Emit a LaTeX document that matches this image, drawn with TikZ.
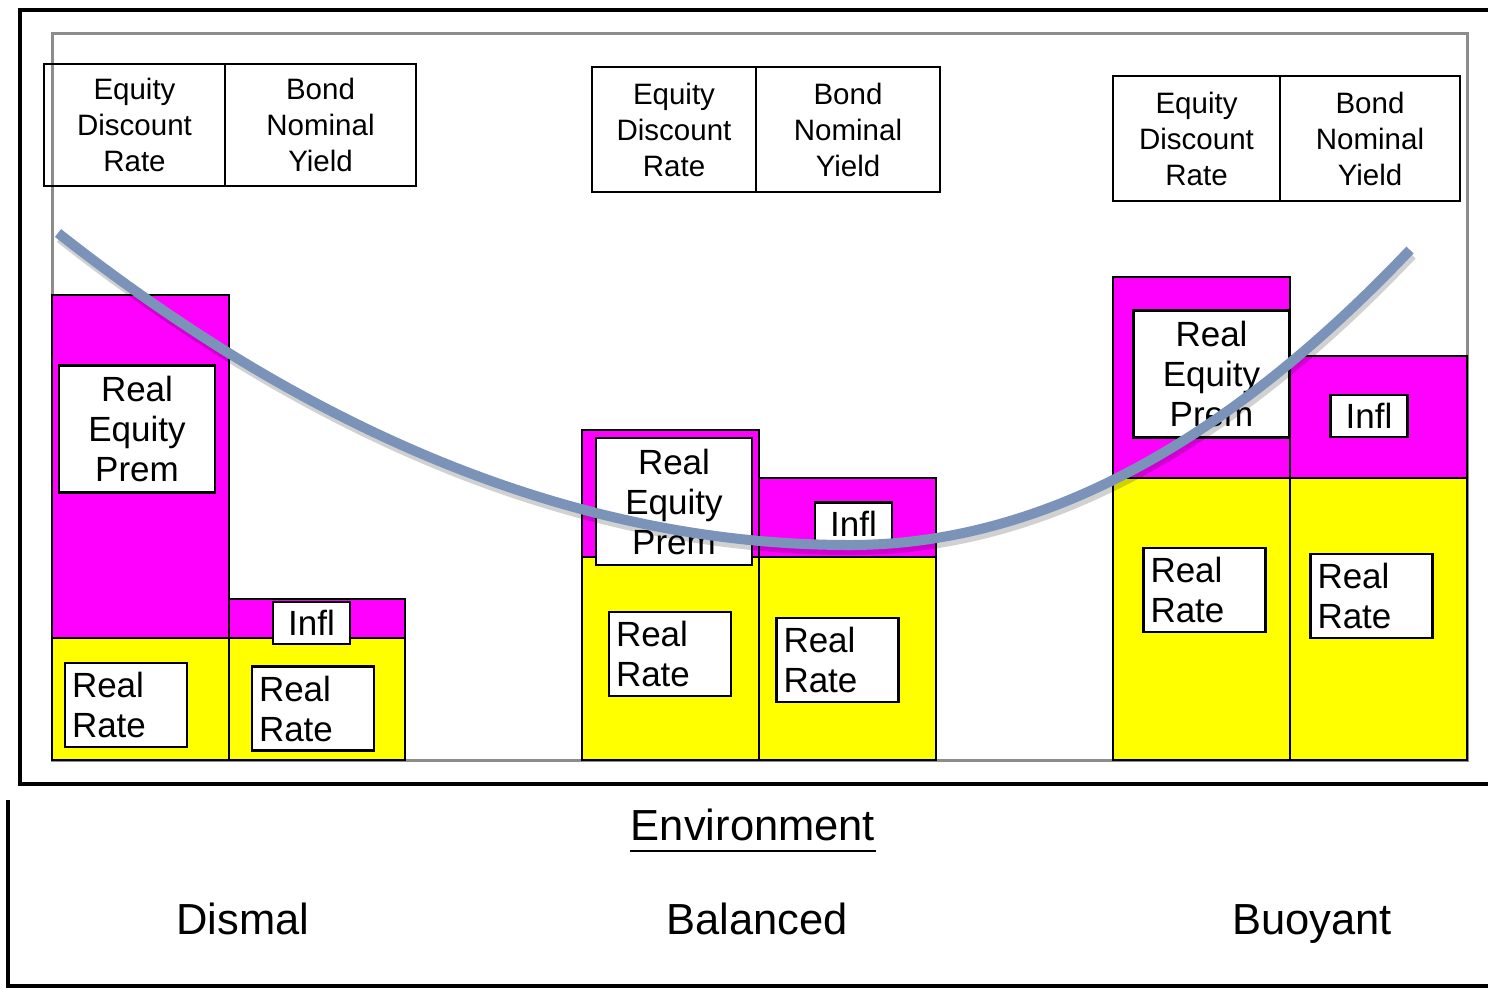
\documentclass[tikz,border=0pt]{standalone}
\usepackage{fontspec}
\setmainfont{Liberation Sans}
\usetikzlibrary{positioning}
\definecolor{premcol}{HTML}{FF00FF}
\definecolor{ratecol}{HTML}{FFFF00}
\definecolor{curvecol}{HTML}{7B93B9}
\definecolor{framecol}{HTML}{8C8C8C}

\begin{document}
\begin{tikzpicture}[
    x=1pt, y=-1pt,
    bar/.style={draw, line width=2.5pt},
    hdr/.style={draw, line width=2.5pt, inner sep=0pt, outer sep=0pt,
        align=center, font=\fontsize{29.5}{36}\selectfont},
    lbl/.style={draw, fill=white, line width=2.5pt, inner sep=0pt,
        font=\fontsize{35}{40}\selectfont},
    ratebox/.style={lbl, minimum height=84pt, text width=108pt,
        inner xsep=7pt, align=left},
    prembox/.style={lbl, minimum width=156pt, minimum height=127pt, align=center},
    inflbox/.style={lbl, minimum width=77pt, minimum height=42pt},
    curveline/.style={line width=10pt, curvecol},
    envtext/.style={font=\fontsize{43.5}{48}\selectfont}
  ]
  \useasboundingbox (0,0) rectangle (1488,989);

  % plot area
  \draw[framecol, line width=3pt] (52,33) rectangle (1467,760);

  % stacked bars: real rate (yellow) and premium / inflation (magenta)
  \foreach \xa/\xb/\ym/\yy in {52/229/295/638, 229/405/599/638,
      582/759/430/557, 759/936/478/557,
      1113/1290/277/478, 1290/1467/356/478} {
    \filldraw[bar, fill=premcol] (\xa,\ym) rectangle (\xb,\yy);
    \filldraw[bar, fill=ratecol] (\xa,\yy) rectangle (\xb,760);
  }

  % Dismal
  \node[prembox] (dPrem) at (137,429) {Real\\Equity\\Prem};
  \node[ratebox] (dRate) at (126,705) {Real\\Rate};
  \node[inflbox] (dInfl) at (311.5,623) {Infl};
  \node[ratebox] (dRateB) at (313,708.5) {Real\\Rate};

  % Balanced
  \node[prembox] (bPrem) at (674,501.5) {Real\\Equity\\Prem};
  \node[ratebox] (bRate) at (670,654) {Real\\Rate};
  \node[inflbox] (bInfl) at (853.5,523.5) {Infl};
  \node[ratebox] (bRateB) at (837.5,660) {Real\\Rate};

  % Buoyant
  \node[prembox] (uPrem) at (1211.5,374) {Real\\Equity\\Prem};
  \node[ratebox] (uRate) at (1204.5,590) {Real\\Rate};
  \node[inflbox] (uInfl) at (1369,416) {Infl};
  \node[ratebox] (uRateB) at (1371.5,596) {Real\\Rate};

  % curve with a soft shadow
  \draw[curveline, black, opacity=0.18, shift={(2,5)}]
    (58,233) .. controls (322,441) and (586,545) .. (850,545)
    .. controls (1037,545) and (1223,447) .. (1410,250);
  \draw[curveline]
    (58,233) .. controls (322,441) and (586,545) .. (850,545)
    .. controls (1037,545) and (1223,447) .. (1410,250);

  % header cells
  \node[hdr, minimum width=181pt, minimum height=122pt] (dEq) at (134.5,125)
    {Equity\\Discount\\Rate};
  \node[hdr, minimum width=191pt, minimum height=122pt, right=0pt of dEq] (dBd)
    {Bond\\Nominal\\Yield};
  \node[hdr, minimum width=164pt, minimum height=125pt] (bEq) at (674,129.5)
    {Equity\\Discount\\Rate};
  \node[hdr, minimum width=184pt, minimum height=125pt, right=0pt of bEq] (bBd)
    {Bond\\Nominal\\Yield};
  \node[hdr, minimum width=167pt, minimum height=125pt] (uEq) at (1196.5,138.5)
    {Equity\\Discount\\Rate};
  \node[hdr, minimum width=180pt, minimum height=125pt, right=0pt of uEq] (uBd)
    {Bond\\Nominal\\Yield};

  % frames
  \draw[line width=3.5pt] (1488,10) -- (20,10) -- (20,784) -- (1488,784);
  \draw[line width=3.5pt] (8,800) -- (8,986) -- (1488,986);

  % environment axis
  \node[envtext, inner xsep=1pt, inner ysep=10pt] (env) at (753,825) {Environment};
  \draw[line width=2pt] (env.south west) -- (env.south east);
  \node[envtext, anchor=base] (dis) at (243,934) {Dismal};
  \node[envtext, anchor=base] (bal) at (757,934) {Balanced};
  \node[envtext, anchor=base] (buo) at (1312,934) {Buoyant};
\end{tikzpicture}
\end{document}
